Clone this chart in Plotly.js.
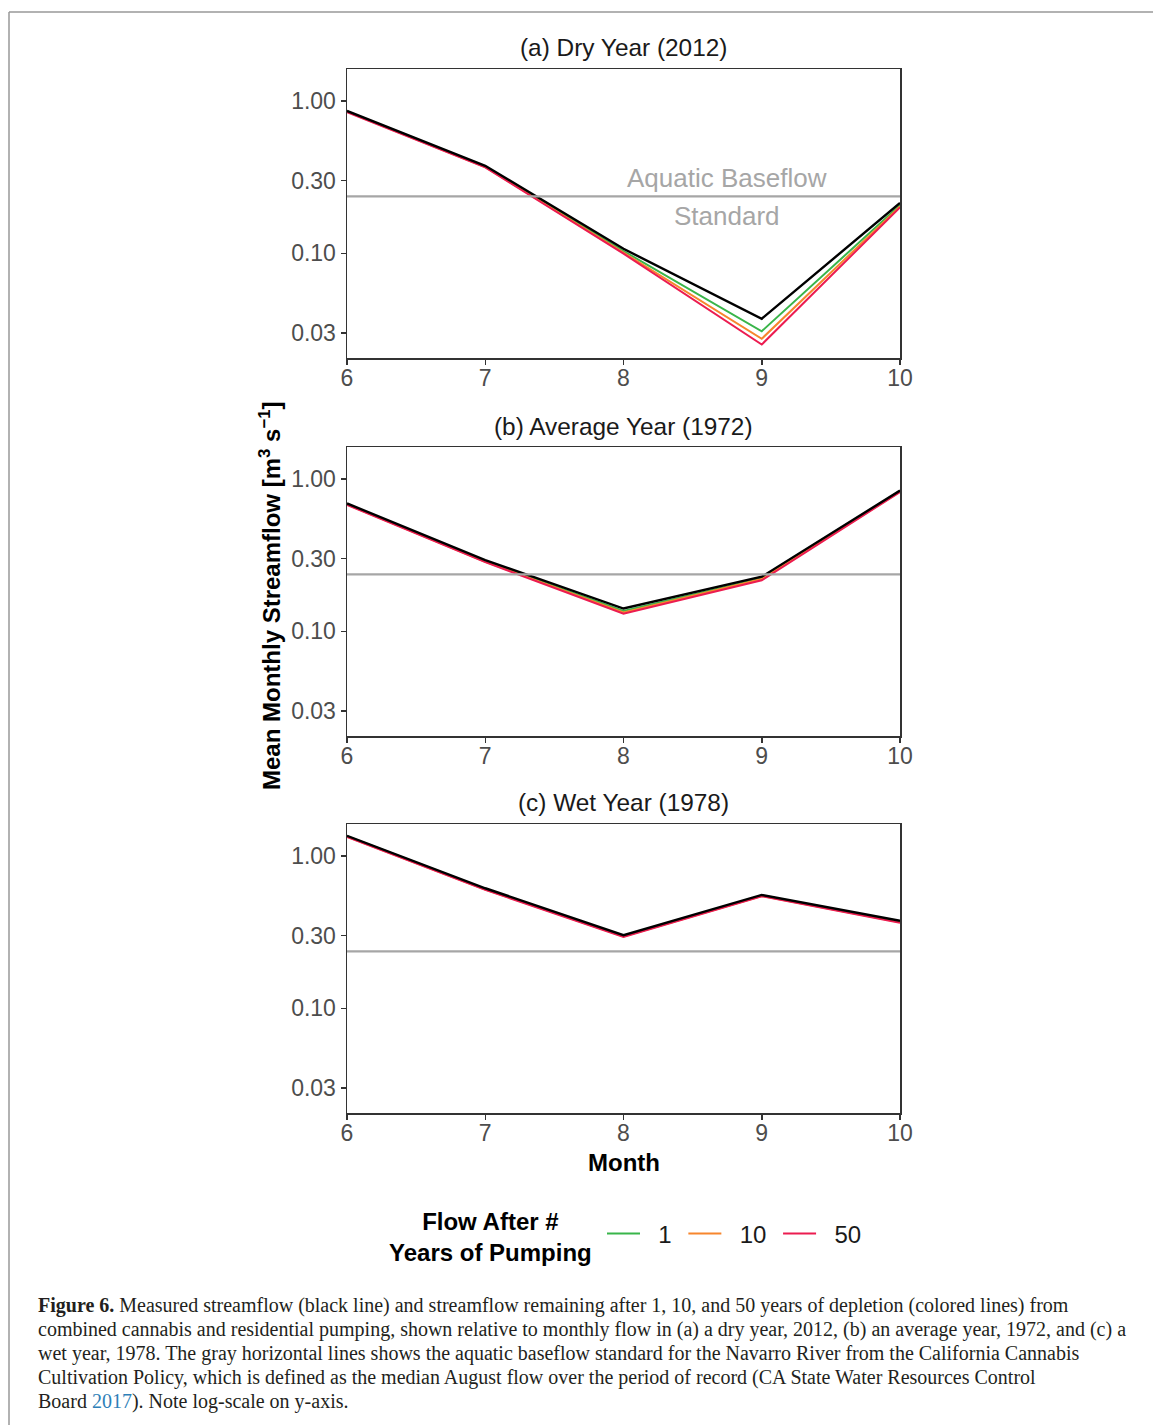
<!DOCTYPE html>
<html>
<head>
<meta charset="utf-8">
<script src="https://cdn.plot.ly/plotly-3.0.1.min.js"></script>
<style>
  html, body { margin: 0; padding: 0; background: #ffffff; }
  #chart { width: 1153px; height: 1425px; }
</style>
</head>
<body>
<div id="chart"></div>
<script>
// ---- data ----
const months = [6, 7, 8, 9, 10];
const monthTicks = [6, 7, 8, 9, 10];
const flowTickVals = [0.03, 0.1, 0.3, 1];
const flowTickText = ['0.03', '0.10', '0.30', '1.00'];
const baseflowStandard = 0.236;

const dryMeasured = [0.86, 0.375, 0.107, 0.0372, 0.214];
const dry1 = [0.853, 0.371, 0.1035, 0.0308, 0.207];
const dry10 = [0.848, 0.368, 0.101, 0.0275, 0.203];
const dry50 = [0.843, 0.366, 0.0995, 0.0252, 0.200];

const avgMeasured = [0.69, 0.293, 0.141, 0.228, 0.838];
const avg1 = [0.683, 0.288, 0.136, 0.223, 0.83];
const avg10 = [0.679, 0.286, 0.133, 0.220, 0.825];
const avg50 = [0.675, 0.284, 0.1305, 0.216, 0.82];

const wetMeasured = [1.355, 0.613, 0.302, 0.554, 0.375];
const wet1 = [1.345, 0.607, 0.298, 0.549, 0.370];
const wet10 = [1.338, 0.602, 0.296, 0.546, 0.367];
const wet50 = [1.33, 0.598, 0.294, 0.543, 0.364];

const panelTitles = ['(a) Dry Year (2012)', '(b) Average Year (1972)', '(c) Wet Year (1978)'];
const seriesNames = ['1', '10', '50'];
const seriesColors = ['#39b54a', '#f7862d', '#ec1c50'];

const captionLines = [
  '<b>Figure 6.</b> Measured streamflow (black line) and streamflow remaining after 1, 10, and 50 years of depletion (colored lines) from',
  'combined cannabis and residential pumping, shown relative to monthly flow in (a) a dry year, 2012, (b) an average year, 1972, and (c) a',
  'wet year, 1978. The gray horizontal lines shows the aquatic baseflow standard for the Navarro River from the California Cannabis',
  'Cultivation Policy, which is defined as the median August flow over the period of record (CA State Water Resources Control',
  'Board <span style="color:#2e7fb8">2017</span>). Note log-scale on y-axis.'
];

const panels = [
  { measured: dryMeasured, depleted: [dry1, dry10, dry50] },
  { measured: avgMeasured, depleted: [avg1, avg10, avg50] },
  { measured: wetMeasured, depleted: [wet1, wet10, wet50] }
];

// ---- layout geometry (pixels) ----
const W = 1153, H = 1425;
const px = v => v / W;
const py = v => 1 - v / H;
const plotLeft = 347, plotRight = 900;
const panelTops = [69, 447, 824];
const panelH = 289;

const sans = 'Liberation Sans, Arial, sans-serif';
const serif = 'Liberation Serif, Times New Roman, serif';

const traces = [];
const layout = {
  width: W, height: H,
  margin: { l: 0, r: 0, t: 0, b: 0 },
  paper_bgcolor: '#ffffff',
  plot_bgcolor: '#ffffff',
  showlegend: true,
  legend: {
    orientation: 'h',
    x: px(602), xanchor: 'left',
    y: py(1234), yanchor: 'middle',
    font: { family: sans, size: 24, color: '#1a1a1a' },
    itemwidth: 33,
    bgcolor: 'rgba(0,0,0,0)',
    traceorder: 'normal'
  },
  annotations: [],
  shapes: []
};

panels.forEach((p, i) => {
  const n = i === 0 ? '' : String(i + 1);
  const xa = 'x' + n, ya = 'y' + n;
  p.depleted.forEach((vals, k) => {
    traces.push({
      x: months, y: vals, xaxis: xa, yaxis: ya,
      type: 'scatter', mode: 'lines',
      name: '\u00a0\u00a0' + seriesNames[k] + '\u00a0',
      legendgroup: seriesNames[k],
      showlegend: i === 0,
      line: { color: seriesColors[k], width: 2 },
      hoverinfo: 'skip'
    });
  });
  traces.push({
    x: months, y: p.measured, xaxis: xa, yaxis: ya,
    type: 'scatter', mode: 'lines', showlegend: false,
    line: { color: '#000000', width: 2.4 }, hoverinfo: 'skip'
  });
  traces.push({
    x: [months[0], months[months.length - 1]],
    y: [baseflowStandard, baseflowStandard],
    xaxis: xa, yaxis: ya,
    type: 'scatter', mode: 'lines', showlegend: false,
    line: { color: '#a6a6a6', width: 2.2 }, hoverinfo: 'skip'
  });

  const top = panelTops[i], bottom = top + panelH;
  layout['xaxis' + n] = {
    domain: [px(plotLeft), px(plotRight)],
    anchor: ya,
    range: [6, 10],
    tickvals: monthTicks,
    ticktext: monthTicks.map(String),
    ticks: 'outside', ticklen: 5, tickwidth: 1.5, tickcolor: '#333333',
    ticklabelstandoff: -6,
    showline: true, mirror: true, linecolor: '#333333', linewidth: 1.5,
    showgrid: false, zeroline: false,
    tickfont: { family: sans, size: 23, color: '#4d4d4d' },
    fixedrange: true
  };
  layout['yaxis' + n] = {
    domain: [py(bottom), py(top)],
    anchor: xa,
    type: 'log',
    range: [-1.687, 0.209],
    tickvals: flowTickVals,
    ticktext: flowTickText,
    ticks: 'outside', ticklen: 5, tickwidth: 1.5, tickcolor: '#333333',
    showline: true, mirror: true, linecolor: '#333333', linewidth: 1.5,
    showgrid: false, zeroline: false,
    tickfont: { family: sans, size: 23, color: '#4d4d4d' },
    fixedrange: true
  };
  layout.annotations.push({
    text: panelTitles[i], xref: 'paper', yref: 'paper',
    x: px((plotLeft + plotRight) / 2), y: py(top - 21),
    xanchor: 'center', yanchor: 'middle', showarrow: false,
    font: { family: sans, size: 24.4, color: '#1a1a1a' }
  });
});

// baseflow label in panel (a)
layout.annotations.push({
  text: 'Aquatic Baseflow', xref: 'x', yref: 'y',
  x: 8.75, y: Math.log10(baseflowStandard), yshift: 18,
  xanchor: 'center', yanchor: 'middle', showarrow: false,
  font: { family: sans, size: 26, color: '#a6a6a6' }
});
layout.annotations.push({
  text: 'Standard', xref: 'x', yref: 'y',
  x: 8.75, y: Math.log10(baseflowStandard), yshift: -20,
  xanchor: 'center', yanchor: 'middle', showarrow: false,
  font: { family: sans, size: 26, color: '#a6a6a6' }
});

// axis titles
layout.annotations.push({
  text: '<b>Mean Monthly Streamflow [m<sup>3</sup> s<sup>\u22121</sup>]</b>',
  xref: 'paper', yref: 'paper', x: px(270), y: py(596),
  xanchor: 'center', yanchor: 'middle', textangle: -90, showarrow: false,
  font: { family: sans, size: 24, color: '#000000' }
});
layout.annotations.push({
  text: '<b>Month</b>', xref: 'paper', yref: 'paper',
  x: px(624), y: py(1162), xanchor: 'center', yanchor: 'middle', showarrow: false,
  font: { family: sans, size: 24, color: '#000000' }
});
// legend title
layout.annotations.push({
  text: '<b>Flow After #<br>Years of Pumping</b>', xref: 'paper', yref: 'paper',
  x: px(490), y: py(1237), xanchor: 'center', yanchor: 'middle', align: 'center',
  showarrow: false,
  font: { family: sans, size: 24, color: '#000000' }
});

// caption, one annotation per printed line
captionLines.forEach((line, j) => {
  layout.annotations.push({
    text: line, xref: 'paper', yref: 'paper',
    x: px(36), y: py(1305 + 24 * j),
    xanchor: 'left', yanchor: 'middle', align: 'left', showarrow: false,
    font: { family: serif, size: 20, color: '#231f20' }
  });
});

// figure frame
layout.shapes.push({
  type: 'line', xref: 'paper', yref: 'paper',
  x0: px(9), x1: 1, y0: py(12), y1: py(12),
  line: { color: '#999999', width: 1.5 }
});
layout.shapes.push({
  type: 'line', xref: 'paper', yref: 'paper',
  x0: px(9), x1: px(9), y0: py(12), y1: 0,
  line: { color: '#999999', width: 1.5 }
});

Plotly.newPlot('chart', traces, layout, { staticPlot: true, displayModeBar: false });
</script>
</body>
</html>
